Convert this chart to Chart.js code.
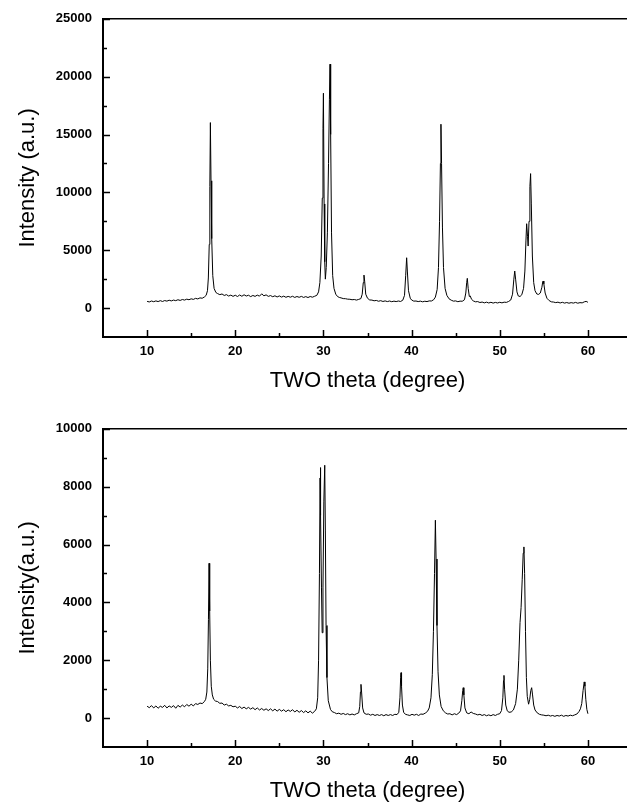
<!DOCTYPE html>
<html>
<head>
<meta charset="utf-8">
<title>XRD patterns</title>
<script src="https://cdn.jsdelivr.net/npm/chart.js@4.4.1/dist/chart.umd.min.js"></script>
<style>
  html, body { margin: 0; padding: 0; background: #fff; overflow: hidden; }
  #wrap { position: relative; width: 627px; height: 804px; overflow: hidden; }
  canvas { position: absolute; left: 0; }
  #topChart { top: 0; }
  #bottomChart { top: 410px; }
</style>
</head>
<body>
<div id="wrap">
  <canvas id="topChart" width="660" height="400"></canvas>
  <canvas id="bottomChart" width="660" height="400"></canvas>
</div>
<script>
// 上图数据 (2θ, 强度)
const thetaTop = [
  10.0, 10.25, 10.5, 10.75, 11.0, 11.25, 11.5, 11.75, 12.0, 12.25, 12.5, 12.75,
  13.0, 13.25, 13.5, 13.75, 14.0, 14.25, 14.5, 14.75, 15.0, 15.25, 15.5, 15.75,
  16.0, 16.25, 16.5, 16.7, 16.85, 16.95, 17.05, 17.12, 17.18, 17.25, 17.33, 17.45,
  17.6, 17.8, 18.0, 18.25, 18.5, 18.75, 19.0, 19.25, 19.5, 19.75, 20.0, 20.25,
  20.5, 20.75, 21.0, 21.25, 21.5, 21.75, 22.0, 22.25, 22.5, 22.75, 23.0, 23.25,
  23.5, 23.75, 24.0, 24.25, 24.5, 24.75, 25.0, 25.25, 25.5, 25.75, 26.0, 26.25,
  26.5, 26.75, 27.0, 27.25, 27.5, 27.75, 28.0, 28.25, 28.5, 28.75, 29.0, 29.25,
  29.45, 29.6, 29.75, 29.87, 29.95, 30.0, 30.08, 30.15, 30.22, 30.32, 30.45, 30.58,
  30.68, 30.75, 30.82, 30.92, 31.05, 31.2, 31.4, 31.6, 31.8, 32.0, 32.25, 32.5,
  32.75, 33.0, 33.25, 33.5, 33.75, 34.0, 34.25, 34.4, 34.52, 34.6, 34.68, 34.8,
  35.0, 35.25, 35.5, 35.75, 36.0, 36.25, 36.5, 36.75, 37.0, 37.25, 37.5, 37.75,
  38.0, 38.25, 38.5, 38.75, 39.0, 39.2, 39.33, 39.44, 39.52, 39.65, 39.85, 40.0,
  40.25, 40.5, 40.75, 41.0, 41.25, 41.5, 41.75, 42.0, 42.25, 42.5, 42.7, 42.9,
  43.05, 43.17, 43.27, 43.33, 43.4, 43.5, 43.62, 43.8, 44.0, 44.25, 44.5, 44.75,
  45.0, 45.25, 45.5, 45.75, 46.0, 46.15, 46.25, 46.32, 46.42, 46.55, 46.65, 46.8,
  47.0, 47.25, 47.5, 47.75, 48.0, 48.25, 48.5, 48.75, 49.0, 49.25, 49.5, 49.75,
  50.0, 50.25, 50.5, 50.75, 51.0, 51.25, 51.45, 51.6, 51.7, 51.8, 51.95, 52.1,
  52.3, 52.5, 52.7, 52.85, 52.97, 53.05, 53.15, 53.22, 53.32, 53.42, 53.5, 53.58,
  53.7, 53.85, 54.0, 54.2, 54.4, 54.6, 54.78, 54.88, 54.93, 55.0, 55.15, 55.35,
  55.6, 55.85, 56.1, 56.35, 56.6, 56.85, 57.1, 57.35, 57.6, 57.85, 58.1, 58.35,
  58.6, 58.85, 59.1, 59.35, 59.6, 59.8, 60.0
];
const countsTop = [
  580, 530, 610, 550, 620, 560, 640, 570, 650, 600, 680, 620,
  690, 640, 720, 660, 740, 690, 770, 720, 800, 750, 840, 790,
  880, 850, 960, 1100, 1500, 2600, 5500, 10500, 16030, 11000, 6000, 2800,
  1700, 1350, 1250, 1160, 1220, 1090, 1160, 1040, 1120, 1010, 1110, 1000,
  1130, 1020, 1150, 1040, 1110, 990, 1090, 1010, 1120, 1030, 1230, 1060,
  1140, 1010, 1080, 980, 1060, 960, 1050, 950, 1030, 930, 1010, 940,
  1020, 920, 1000, 930, 1010, 920, 990, 910, 1000, 940, 1020, 1100,
  1400, 2200, 4500, 9500, 15500, 18570, 9000, 4000, 2500, 3500, 6500, 12500,
  18000, 21080, 15000, 6500, 2800, 1700, 1200, 1000, 920, 880, 820, 810,
  770, 760, 720, 740, 690, 750, 820, 1200, 2200, 2850, 2300, 1200,
  850, 700, 690, 630, 660, 590, 640, 570, 620, 560, 610, 550,
  600, 560, 610, 570, 680, 1100, 2800, 4350, 3200, 1500, 850, 700,
  600, 610, 560, 600, 540, 590, 560, 620, 610, 720, 950, 1600,
  3500, 7500, 12500, 15890, 12500, 7000, 3500, 1700, 1100, 800, 680, 600,
  620, 550, 600, 590, 720, 1300, 2200, 2570, 1700, 1000, 1050, 760,
  620, 540, 560, 480, 520, 450, 510, 440, 500, 430, 490, 440,
  500, 450, 510, 490, 570, 700, 1200, 2500, 3200, 2500, 1400, 1050,
  1000, 1150, 1700, 3200, 5800, 7290, 6200, 5360, 7500, 10500, 11620, 9000,
  4500, 2200, 1500, 1220, 1180, 1300, 1800, 2300, 2340, 2100, 1300, 850,
  650, 540, 520, 470, 510, 440, 500, 430, 480, 420, 470, 430,
  490, 420, 470, 450, 540, 580, 500
];

// 下图数据 (2θ, 强度)
const thetaBottom = [
  10.0, 10.25, 10.5, 10.75, 11.0, 11.25, 11.5, 11.75, 12.0, 12.25, 12.5, 12.75,
  13.0, 13.25, 13.5, 13.75, 14.0, 14.25, 14.5, 14.75, 15.0, 15.25, 15.5, 15.75,
  16.0, 16.25, 16.5, 16.65, 16.78, 16.88, 16.96, 17.03, 17.1, 17.18, 17.28, 17.4,
  17.55, 17.75, 18.0, 18.25, 18.5, 18.75, 19.0, 19.25, 19.5, 19.75, 20.0, 20.25,
  20.5, 20.75, 21.0, 21.25, 21.5, 21.75, 22.0, 22.25, 22.5, 22.75, 23.0, 23.25,
  23.5, 23.75, 24.0, 24.25, 24.5, 24.75, 25.0, 25.25, 25.5, 25.75, 26.0, 26.25,
  26.5, 26.75, 27.0, 27.25, 27.5, 27.75, 28.0, 28.25, 28.5, 28.75, 29.0, 29.2,
  29.35, 29.45, 29.55, 29.62, 29.65, 29.7, 29.78, 29.86, 29.95, 30.05, 30.15, 30.22,
  30.3, 30.4, 30.55, 30.8, 31.0, 31.25, 31.5, 31.75, 32.0, 32.25, 32.5, 32.75,
  33.0, 33.25, 33.5, 33.75, 34.0, 34.12, 34.2, 34.26, 34.33, 34.45, 34.6, 34.85,
  35.1, 35.35, 35.6, 35.85, 36.1, 36.35, 36.6, 36.85, 37.1, 37.35, 37.6, 37.85,
  38.1, 38.35, 38.55, 38.68, 38.76, 38.8, 38.86, 38.96, 39.1, 39.3, 39.55, 39.8,
  40.05, 40.3, 40.55, 40.8, 41.05, 41.3, 41.55, 41.8, 42.0, 42.2, 42.35, 42.48,
  42.6, 42.7, 42.78, 42.88, 43.0, 43.15, 43.35, 43.6, 43.85, 44.1, 44.35, 44.6,
  44.85, 45.1, 45.35, 45.55, 45.7, 45.8, 45.86, 45.93, 46.05, 46.25, 46.5, 46.75,
  47.0, 47.25, 47.5, 47.75, 48.0, 48.25, 48.5, 48.75, 49.0, 49.25, 49.5, 49.75,
  50.0, 50.2, 50.35, 50.43, 50.48, 50.55, 50.68, 50.85, 51.05, 51.3, 51.55, 51.8,
  52.0, 52.15, 52.3, 52.42, 52.55, 52.66, 52.74, 52.82, 52.92, 53.02, 53.12, 53.27,
  53.4, 53.52, 53.62, 53.72, 53.85, 54.0, 54.25, 54.5, 54.75, 55.0, 55.25, 55.5,
  55.75, 56.0, 56.25, 56.5, 56.75, 57.0, 57.25, 57.5, 57.75, 58.0, 58.25, 58.5,
  58.75, 59.0, 59.15, 59.3, 59.45, 59.58, 59.66, 59.76, 59.88, 60.0
];
const countsBottom = [
  410, 360, 430, 350, 420, 340, 410, 370, 440, 350, 420, 370,
  430, 340, 440, 380, 450, 390, 470, 410, 480, 420, 500, 470,
  520, 500, 570, 650, 900, 1700, 3400, 5350, 3700, 2000, 1100, 800,
  650, 590, 570, 510, 520, 450, 480, 420, 440, 390, 410, 350,
  400, 330, 380, 320, 370, 310, 360, 290, 350, 280, 330, 270,
  320, 260, 320, 250, 310, 240, 300, 240, 290, 220, 280, 230,
  290, 210, 270, 200, 260, 190, 250, 180, 240, 170, 230, 320,
  700, 2000, 5000, 8300, 8660, 7000, 4500, 2950, 4500, 7500, 8740, 6500,
  3200, 1400, 600, 300, 220, 190, 150, 170, 130, 160, 120, 150,
  110, 140, 110, 150, 180, 400, 900, 1165, 900, 350, 180, 130,
  140, 100, 130, 90, 120, 90, 120, 80, 120, 90, 120, 90,
  130, 120, 200, 700, 1400, 1570, 1100, 450, 200, 130, 110, 90,
  130, 100, 130, 90, 140, 130, 170, 230, 350, 700, 1500, 3000,
  5000, 6840, 5500, 3200, 1600, 800, 400, 250, 180, 140, 150, 110,
  150, 120, 170, 250, 600, 950, 1050, 800, 350, 180, 150, 210,
  160, 140, 110, 130, 90, 120, 80, 110, 80, 120, 90, 130,
  150, 260, 700, 1300, 1475, 1000, 450, 250, 200, 210, 280, 500,
  1000, 2000, 3300, 3820, 4800, 5700, 5917, 5000, 3000, 1400, 750, 480,
  650, 950, 1050, 800, 450, 280, 180, 130, 110, 100, 80, 100,
  70, 90, 60, 90, 70, 100, 60, 90, 70, 100, 80, 110,
  140, 230, 320, 500, 950, 1250, 1100, 650, 300, 150
];

// 刻度
const xTicks = [10, 20, 30, 40, 50, 60];
const xMinorTicks = [15, 25, 35, 45, 55];
const yTicksTop = [0, 5000, 10000, 15000, 20000, 25000];
const yMinorTop = [2500, 7500, 12500, 17500, 22500];
const yTicksBottom = [0, 2000, 4000, 6000, 8000, 10000];
const yMinorBottom = [1000, 3000, 5000, 7000, 9000];

const FONT = '"Liberation Sans", Arial, Helvetica, sans-serif';

// 向内的刻度线和上边框
const innerTicks = {
  id: 'innerTicks',
  afterDraw(chart, args, opts) {
    const { ctx, chartArea: a, scales: { x, y } } = chart;
    ctx.save();
    ctx.strokeStyle = '#000';
    ctx.lineWidth = 1.5;
    ctx.beginPath();
    const tickX = (list, len) => list.forEach(v => {
      const px = Math.round(x.getPixelForValue(v)) + 0.5;
      ctx.moveTo(px, a.bottom);
      ctx.lineTo(px, a.bottom - len);
    });
    const tickY = (list, len) => list.forEach(v => {
      const py = Math.round(y.getPixelForValue(v)) + 0.5;
      ctx.moveTo(a.left, py);
      ctx.lineTo(a.left + len, py);
    });
    tickX(xTicks, 7);
    tickX(xMinorTicks, 4);
    tickY(opts.major, 7);
    tickY(opts.minor, 4);
    ctx.stroke();

    ctx.lineWidth = 1.5;
    ctx.beginPath();
    ctx.moveTo(a.left, a.top);
    ctx.lineTo(a.right, a.top);
    ctx.lineTo(a.right, a.bottom);
    ctx.stroke();
    ctx.restore();
  }
};

function makeChart(id, theta, counts, yMin, yMax, yTicks, yMinor, yTitle) {
  const ctx = document.getElementById(id).getContext('2d');
  return new Chart(ctx, {
    type: 'line',
    data: {
      datasets: [{
        data: theta.map((t, i) => ({ x: t, y: counts[i] })),
        borderColor: '#000',
        borderWidth: 1,
        pointRadius: 0,
        tension: 0,
        fill: false
      }]
    },
    options: {
      responsive: false,
      animation: false,
      layout: { padding: { top: 18, left: 0, right: 28, bottom: 0 } },
      plugins: {
        legend: { display: false },
        tooltip: { enabled: false },
        innerTicks: { major: yTicks, minor: yMinor }
      },
      scales: {
        x: {
          type: 'linear',
          min: 5,
          max: 65,
          afterBuildTicks: s => { s.ticks = xTicks.map(v => ({ value: v })); },
          afterFit: s => { s.height = 63; },
          grid: { display: false, drawTicks: false },
          border: { display: true, color: '#000', width: 2 },
          ticks: {
            padding: 7,
            color: '#000',
            maxRotation: 0,
            font: { family: FONT, size: 13, weight: 'bold' },
            callback: v => String(v)
          },
          title: {
            display: true,
            text: 'TWO theta (degree)',
            color: '#000',
            font: { family: FONT, size: 22 },
            padding: { top: 0, bottom: 6 }
          }
        },
        y: {
          type: 'linear',
          min: yMin,
          max: yMax,
          afterBuildTicks: s => { s.ticks = yTicks.map(v => ({ value: v })); },
          afterFit: s => { s.width = 103; },
          grid: { display: false, drawTicks: false },
          border: { display: true, color: '#000', width: 2 },
          ticks: {
            padding: 11,
            color: '#000',
            font: { family: FONT, size: 13, weight: 'bold' },
            callback: v => String(v)
          },
          title: {
            display: true,
            text: yTitle,
            color: '#000',
            font: { family: FONT, size: 22 },
            padding: { top: 15, bottom: 0 }
          }
        }
      }
    },
    plugins: [innerTicks]
  });
}

makeChart('topChart', thetaTop, countsTop, -2500, 25000, yTicksTop, yMinorTop, 'Intensity (a.u.)');
makeChart('bottomChart', thetaBottom, countsBottom, -1000, 10000, yTicksBottom, yMinorBottom, 'Intensity(a.u.)');
</script>
</body>
</html>
